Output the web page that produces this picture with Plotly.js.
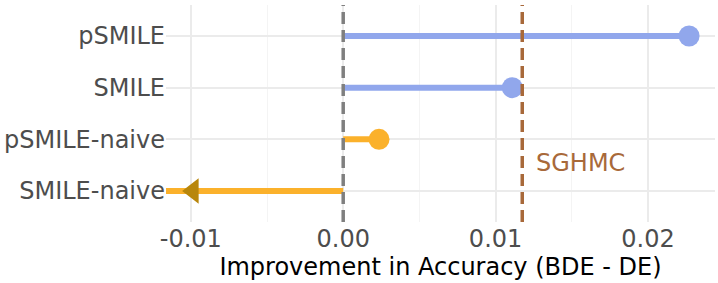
<!DOCTYPE html>
<html><head><meta charset="utf-8">
<script src="https://cdn.plot.ly/plotly-3.0.1.min.js"></script>
<style>html,body{margin:0;padding:0;background:#fff}#c{width:718px;height:283px}</style>
</head><body><div id="c"></div>
<script>
const categories = ["SMILE-naive", "pSMILE-naive", "SMILE", "pSMILE"];
const improvement = [-0.0135, 0.00235, 0.0111, 0.0227];
const groupColors = ["#fbb12b", "#fbb12b", "#91a7ec", "#91a7ec"];
const sghmcValue = 0.01175;
const sghmcLabel = "SGHMC";
const xTickVals = [-0.01, 0.00, 0.01, 0.02];
const xTickText = ["-0.01", "0.00", "0.01", "0.02"];

const xRange = [-0.01163, 0.0244];
const traces = [];
categories.forEach((c, i) => {
  traces.push({x: [0, improvement[i]], y: [c, c], type: 'scatter', mode: 'lines',
    line: {color: groupColors[i], width: 6}, hoverinfo: 'skip', showlegend: false, cliponaxis: true});
});
const inX = [], inY = [], inC = [], outX = [], outY = [];
categories.forEach((c, i) => {
  if (improvement[i] >= xRange[0]) { inX.push(improvement[i]); inY.push(c); inC.push(groupColors[i]); }
  else { outX.push(xRange[0] + 0.00178); outY.push(c); }
});
traces.push({x: inX, y: inY, type: 'scatter', mode: 'markers',
  marker: {size: 21, color: inC}, showlegend: false});
traces.push({x: outX, y: outY, type: 'scatter', mode: 'markers',
  marker: {size: 22, symbol: 'triangle-left', color: '#b8860b'}, showlegend: false});

const layout = {
  width: 718, height: 283,
  margin: {l: 166, r: 3, t: 5, b: 61},
  paper_bgcolor: '#fff', plot_bgcolor: '#fff',
  font: {family: 'DejaVu Sans', size: 24, color: '#4d4d4d'},
  xaxis: {range: xRange, tickvals: xTickVals, ticktext: xTickText, zeroline: false,
    showgrid: true, gridcolor: '#ebebeb', gridwidth: 2, ticks: '', ticklen: 0,
    minor: {tickvals: [-0.005, 0.005, 0.015], showgrid: true, gridcolor: '#f4f4f4', gridwidth: 1},
    title: {text: 'Improvement in Accuracy (BDE - DE)', font: {size: 24, color: '#000'}, standoff: 4},
    tickfont: {size: 24, color: '#4d4d4d'}},
  yaxis: {type: 'category', categoryorder: 'array', categoryarray: categories,
    range: [-0.6, 3.6], showgrid: true, gridcolor: '#ebebeb', gridwidth: 2, zeroline: false,
    ticks: '', ticklen: 0, tickfont: {size: 24, color: '#4d4d4d'}},
  shapes: [
    {type: 'line', xref: 'x', yref: 'paper', x0: 0, x1: 0, y0: 0, y1: 1,
      line: {color: '#7f7f7f', width: 3.5, dash: '12px,6px'}},
    {type: 'line', xref: 'x', yref: 'paper', x0: sghmcValue, x1: sghmcValue, y0: 0, y1: 1,
      line: {color: '#a8693a', width: 3.5, dash: '12px,6px'}}
  ],
  annotations: [
    {x: sghmcValue, y: 0.54, xref: 'x', yref: 'y', text: sghmcLabel, showarrow: false,
      xanchor: 'left', xshift: 12, font: {size: 24, color: '#a8693a'}}
  ]
};
Plotly.newPlot('c', traces, layout, {displayModeBar: false, staticPlot: true});
</script></body></html>
